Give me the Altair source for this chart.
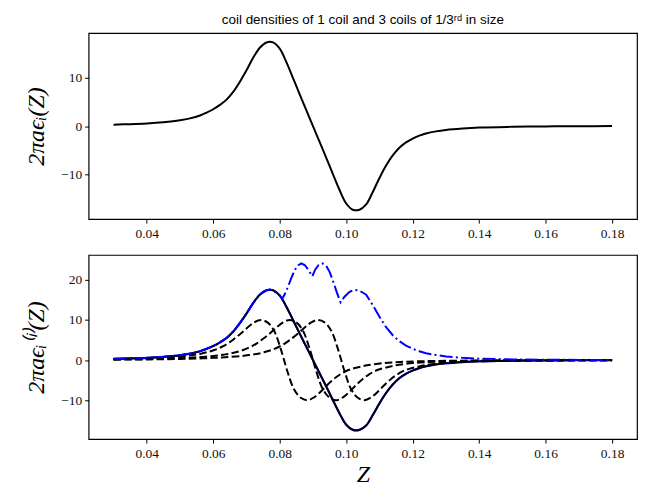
import altair as alt
import pandas as pd

# ---------------- data ----------------
# single coil (top panel, also black solid in bottom panel)
Z_GRID = [0.030, 0.035, 0.040, 0.045, 0.050, 0.053, 0.056, 0.058, 0.060, 0.062,
          0.064, 0.066, 0.068, 0.070, 0.072, 0.074, 0.076, 0.078, 0.080,
          0.082, 0.084, 0.086, 0.088, 0.090, 0.092, 0.094, 0.096, 0.098, 0.100,
          0.102, 0.104, 0.106, 0.108, 0.110, 0.112, 0.114, 0.116, 0.118,
          0.120, 0.122, 0.124, 0.127, 0.130, 0.135, 0.140, 0.150, 0.160, 0.170,
          0.180]
SINGLE = [0.30, 0.40, 0.55, 0.80, 1.20, 1.60, 2.20, 2.80, 3.50, 4.40,
          5.50, 7.10, 9.20, 11.6, 14.2, 16.3, 17.4, 17.4, 16.1,
          13.3, 10.0, 6.6, 3.3, 0.0, -3.3, -6.6, -10.0, -13.3, -16.1,
          -17.4, -17.4, -16.3, -13.7, -10.8, -8.2, -6.1, -4.5, -3.4,
          -2.6, -2.0, -1.55, -1.1, -0.8, -0.5, -0.3, -0.15, -0.07, -0.03,
          0.0]
# sum of the three small coils (blue solid, bottom panel)
SUM3 = [0.30, 0.40, 0.55, 0.80, 1.20, 1.60, 2.20, 2.80, 3.50, 4.40,
        5.50, 7.10, 9.20, 11.6, 14.2, 16.3, 17.4, 17.4, 16.1,
        13.3, 10.0, 6.6, 3.3, 0.0, -3.3, -6.6, -10.0, -13.3, -16.1,
        -17.4, -17.4, -16.3, -13.7, -10.8, -8.2, -6.1, -4.5, -3.4,
        -2.6, -2.0, -1.55, -1.1, -0.8, -0.5, -0.3, -0.15, -0.07, -0.03,
        0.0]

# small coil 1 (black dashed)
C1_Z = [0.030, 0.036, 0.041, 0.046, 0.0513, 0.0543, 0.0563, 0.0583, 0.0603, 0.0623,
        0.0643, 0.0663, 0.0683, 0.0703, 0.0723, 0.0743, 0.0763, 0.0783, 0.0803, 0.0823,
        0.0843, 0.0863, 0.0883, 0.0903, 0.0923, 0.0943, 0.0963, 0.0983, 0.1003, 0.1023,
        0.1043, 0.1063, 0.1113, 0.1163, 0.1213, 0.1313, 0.1413, 0.160, 0.180]
C1 = [0.24, 0.34, 0.49, 0.69, 1.0, 1.35, 1.6, 2.0, 2.5, 3.2,
      4.1, 5.3, 6.6, 8.1, 9.4, 10.0, 9.4, 7.3, 2.8, -2.8,
      -7.3, -9.4, -10.0, -9.3, -7.9, -6.2, -4.7, -3.5, -2.6, -2.05,
      -1.65, -1.3, -0.75, -0.47, -0.32, -0.17, -0.1, -0.04, -0.02]

# small coil 2 (black dashed)
C2_Z = [0.030, 0.035, 0.040, 0.045, 0.050, 0.055, 0.060, 0.063, 0.065, 0.067,
        0.069, 0.071, 0.073, 0.075, 0.077, 0.079, 0.081, 0.083, 0.085, 0.087,
        0.089, 0.091, 0.093, 0.095, 0.097, 0.099, 0.101, 0.103, 0.105, 0.107,
        0.109, 0.111, 0.113, 0.115, 0.120, 0.125, 0.130, 0.140, 0.150, 0.170,
        0.180]
C2 = [0.15, 0.2, 0.25, 0.35, 0.5, 0.7, 1.0, 1.35, 1.6, 2.0,
      2.5, 3.2, 4.1, 5.3, 6.6, 8.1, 9.4, 10.0, 9.4, 7.3,
      2.8, -2.8, -7.3, -9.4, -10.0, -9.3, -7.9, -6.2, -4.7, -3.5,
      -2.6, -2.05, -1.65, -1.3, -0.75, -0.47, -0.32, -0.17, -0.1, -0.04,
      -0.03]

# small coil 3 (black dashed)
C3_Z = [0.030, 0.035, 0.040, 0.045, 0.050, 0.055, 0.060, 0.0635, 0.0685, 0.0715,
        0.0735, 0.0755, 0.0775, 0.0795, 0.0815, 0.0835, 0.0855, 0.0875, 0.0895, 0.0915,
        0.0935, 0.0955, 0.0975, 0.0995, 0.1015, 0.1035, 0.1055, 0.1075, 0.1095, 0.1115,
        0.1135, 0.1155, 0.1175, 0.1195, 0.1215, 0.1235, 0.1285, 0.1335, 0.1385, 0.1485,
        0.1585, 0.1785, 0.180]
C3 = [0.1, 0.13, 0.16, 0.21, 0.27, 0.38, 0.55, 0.7, 1.0, 1.35,
      1.6, 2.0, 2.5, 3.2, 4.1, 5.3, 6.6, 8.1, 9.4, 10.0,
      9.4, 7.3, 2.8, -2.8, -7.3, -9.4, -10.0, -9.3, -7.9, -6.2,
      -4.7, -3.5, -2.6, -2.05, -1.65, -1.3, -0.75, -0.47, -0.32, -0.17,
      -0.1, -0.04, -0.04]

# blue dash-dot curve
DD_Z = [0.030, 0.035, 0.040, 0.045, 0.050, 0.053, 0.056, 0.058, 0.060, 0.062,
        0.064, 0.066, 0.068, 0.070, 0.072, 0.074, 0.076, 0.077, 0.078, 0.080,
        0.0807, 0.0815, 0.0825, 0.0835, 0.0845, 0.0855, 0.0865, 0.0875, 0.0887, 0.0898,
        0.0907, 0.0917, 0.0928, 0.0940, 0.0950, 0.0960, 0.0972, 0.0983, 0.0995, 0.1010,
        0.1025, 0.1040, 0.1060, 0.1080, 0.1100, 0.1120, 0.1140, 0.1160, 0.1180, 0.1200,
        0.1220, 0.1240, 0.1270, 0.1300, 0.1350, 0.1400, 0.1500, 0.1600, 0.1700, 0.1800]
DD = [0.30, 0.40, 0.55, 0.80, 1.20, 1.60, 2.20, 2.80, 3.50, 4.40,
      5.50, 7.10, 9.20, 11.6, 14.2, 16.3, 17.4, 17.6, 17.4, 16.1,
      15.2, 16.4, 18.3, 20.5, 22.4, 23.6, 24.1, 23.7, 22.4, 20.9,
      22.6, 23.7, 24.1, 23.5, 22.0, 19.8, 16.8, 14.4, 15.8, 17.0,
      17.5, 17.3, 16.3, 13.7, 10.8, 8.2, 6.2, 4.7, 3.6, 2.8,
      2.2, 1.7, 1.25, 0.9, 0.55, 0.35, 0.17, 0.08, 0.04, 0.02]

X_TICKS = [0.04, 0.06, 0.08, 0.10, 0.12, 0.14, 0.16, 0.18]
TOP_Y_TICKS = [-10, 0, 10]
BOTTOM_Y_TICKS = [-10, 0, 10, 20]

TITLE = "coil densities of 1 coil and 3 coils of 1/3ʳᵈ in size"
TOP_YTITLE = "2πaϵᵢ(Z)"
BOTTOM_YTITLE = "2πaϵᵢ⁽ⁱ⁾(Z)"
XTITLE = "Z"

# ---------------- chart ----------------
W, H_TOP, H_BOT = 551, 187, 185
xscale = alt.Scale(domain=[0.0225, 0.1875], nice=False, zero=False)
top_y = alt.Scale(domain=[-19.36, 19.36], nice=False, zero=False)
bot_y = alt.Scale(domain=[-19.7, 26.2], nice=False, zero=False)

top_xaxis = alt.Axis(values=X_TICKS, format=".2f", title=None)
bot_xaxis = alt.Axis(values=X_TICKS, format=".2f", title=XTITLE, titleFontSize=24,
                     titlePadding=3)
top_yaxis = alt.Axis(values=TOP_Y_TICKS, title=TOP_YTITLE)
bot_yaxis = alt.Axis(values=BOTTOM_Y_TICKS, title=BOTTOM_YTITLE)


def line(z, v, yscale, xaxis, yaxis, color, dash=None, width=2.0, interp="catmull-rom"):
    kw = dict(color=color, strokeWidth=width, interpolate=interp, clip=True)
    if dash:
        kw["strokeDash"] = dash
    return alt.Chart(pd.DataFrame({"Z": z, "v": v})).mark_line(**kw).encode(
        x=alt.X("Z:Q", scale=xscale, axis=xaxis),
        y=alt.Y("v:Q", scale=yscale, axis=yaxis),
        order="Z:Q",
    )


top = line(Z_GRID, SINGLE, top_y, top_xaxis, top_yaxis, "black").properties(
    width=W, height=H_TOP,
    title=alt.TitleParams(TITLE, fontSize=13.5, font="Liberation Sans", fontWeight="normal",
                          anchor="middle", offset=7))


def bl(z, v, **kw):
    return line(z, v, bot_y, bot_xaxis, bot_yaxis, **kw)


bottom = alt.layer(
    bl(Z_GRID, SUM3, color="blue", width=2.2),
    bl(Z_GRID, SINGLE, color="black", width=1.8),
    bl(C1_Z, C1, color="black", dash=[7.5, 3.3]),
    bl(C2_Z, C2, color="black", dash=[7.5, 3.3]),
    bl(C3_Z, C3, color="black", dash=[7.5, 3.3]),
    bl(DD_Z, DD, color="blue", dash=[13, 3.3, 2, 3.3], interp="linear"),
).properties(width=W, height=H_BOT)

chart = alt.vconcat(top, bottom, spacing=13).properties(
    padding={"left": 16, "top": 2, "right": 5, "bottom": 0}
).configure_view(
    stroke="black", strokeWidth=1.2
).configure_axis(
    grid=False, domain=False,
    labelFont="Liberation Serif", labelFontSize=13.5, labelColor="#111",
    tickColor="black", tickSize=4, tickWidth=1, labelPadding=3,
    titleFont="Liberation Serif", titleFontStyle="italic", titleFontWeight="normal",
    titleFontSize=24, titleColor="black", titlePadding=12,
).configure_title(color="black")

chart.save("out.html", embed_options={"renderer": "svg", "actions": False})
